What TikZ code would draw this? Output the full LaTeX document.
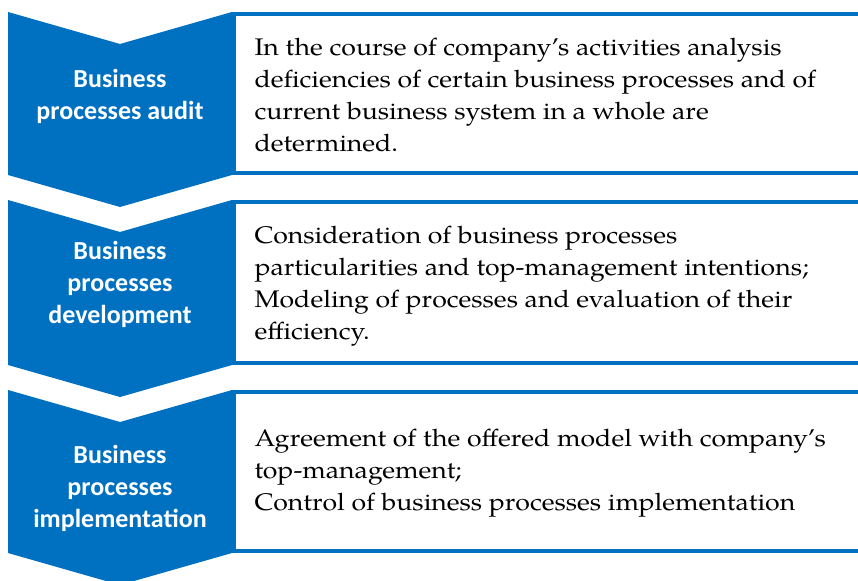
\documentclass[tikz,border=0pt]{standalone}
\usepackage{fontspec}
\newfontfamily\labelfont{Carlito}
\newfontfamily\descfont[FakeStretch=1.11]{texgyrepagella-regular.otf}

\definecolor{chevblue}{RGB}{0,112,192}

\tikzset{every picture/.style={line width=0.75pt}}
\tikzset{
  chevron/.style={draw=none,fill=chevblue},
  descbox/.style={draw=chevblue,line width=3pt,fill=white},
  steplabel/.style={inner sep=0.75pt,align=center,text=white,font=\labelfont\bfseries\fontsize{19.5}{24}\selectfont},
  steptext/.style={anchor=west,inner sep=0.75pt,align=left,font=\descfont\fontsize{18}{24}\selectfont}
}

\begin{document}
\begin{tikzpicture}[x=0.75pt,y=0.75pt,yscale=-1,xscale=1]

\fill[white] (0,0) rectangle (858,581);
\clip (0,0) rectangle (858,581);

% boxes on the right
\draw[descbox] (234,14) rectangle (900,173);
\draw[descbox] (234,202) rectangle (900,363);
\draw[descbox] (234,392) rectangle (900,551);

% chevrons
\draw[chevron] (8,12) -- (120,44) -- (232,12) -- (232,175) -- (120,207) -- (8,175) -- cycle;
\draw[chevron] (8,200) -- (120,232) -- (232,200) -- (232,365) -- (120,397) -- (8,365) -- cycle;
\draw[chevron] (8,390) -- (120,422) -- (232,390) -- (232,553) -- (120,585) -- (8,553) -- cycle;

\node[steplabel] (lab1) at (120,96) {Business\\processes audit};
\node[steplabel] (lab2) at (120,284) {Business\\processes\\development};
\node[steplabel] (lab3) at (120,488) {Business\\processes\\implementation};

\node[steptext] (txt1) at (253,95) {In the course of company’s activities analysis\\deficiencies of certain business processes and of\\current business system in a whole are\\determined.};
\node[steptext] (txt2) at (253,286) {Consideration of business processes\\particularities and top-management intentions;\\Modeling of processes and evaluation of their\\efficiency.};
\node[steptext] (txt3) at (253,473) {Agreement of the offered model with company’s\\top-management;\\Control of business processes implementation};

\end{tikzpicture}
\end{document}
